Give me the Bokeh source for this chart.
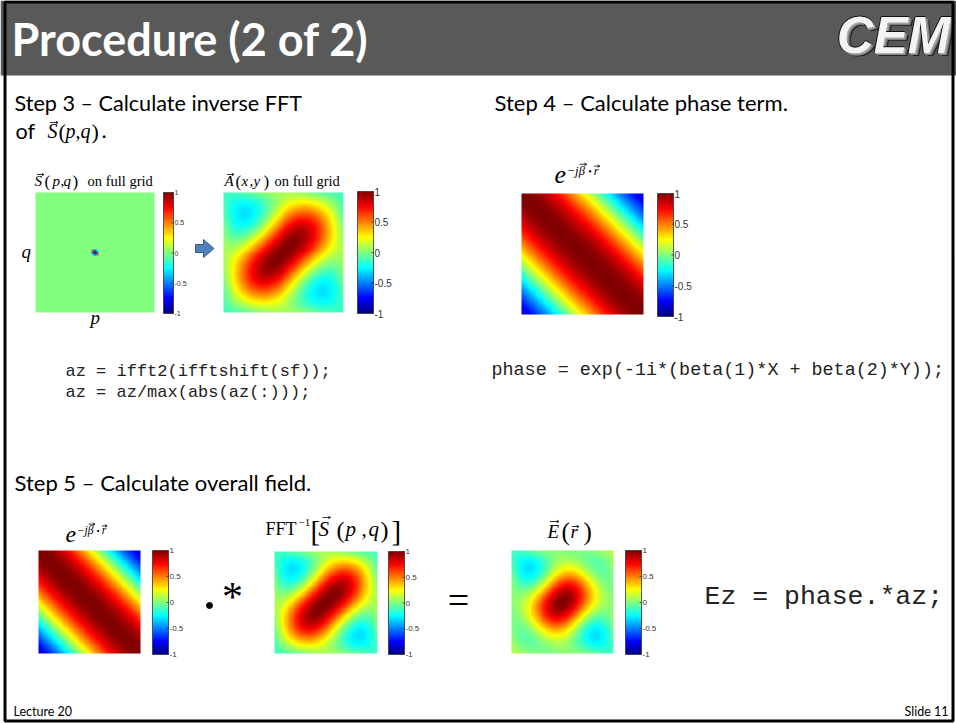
import numpy as np
from bokeh.plotting import figure
from bokeh.models import Range1d, LinearColorMapper
from bokeh.core.properties import value
from bokeh.embed import file_html
from bokeh.resources import INLINE

# ---------------- data ----------------
# truncated Fourier series of the unit cell: harmonic indices and amplitudes
harm_m = [0, 1, 0, 1, 1]
harm_n = [0, 0, 1, 1, -1]
harm_amp = [0.26, 0.28, 0.28, 0.308, -0.13]
# Bloch wave vector (per unit cell) used for the phase term
beta = [2.6, -2.6]
cbar_ticks = [1, 0.5, 0, -0.5, -1]
cbar_labels = ["1", "0.5", "0", "-0.5", "-1"]
field_pts = 121
spec_pts = 57
title_text = "Procedure (2 of 2)"
step3_text = "Step 3 \u2013 Calculate inverse FFT"
step4_text = "Step 4 \u2013 Calculate phase term."
step5_text = "Step 5 \u2013 Calculate overall field."
code_step3 = ["az = ifft2(ifftshift(sf));", "az = az/max(abs(az(:)));"]
code_step4 = "phase = exp(-1i*(beta(1)*X + beta(2)*Y));"
code_step5 = "Ez = phase.*az;"
footer_left = "Lecture 20"
footer_right = "Slide 11"

# ---------------- fields ----------------
u = (np.arange(field_pts) + 0.5) / field_pts - 0.5
UX, VY = np.meshgrid(u, u)  # VY grows downward on the slide
az = np.zeros_like(UX)
for m, n, a in zip(harm_m, harm_n, harm_amp):
    az += a * np.cos(2 * np.pi * (m * UX + n * VY))
az /= np.abs(az).max()
phase = np.cos(beta[0] * UX + beta[1] * VY)
ez = phase * az
ez /= np.abs(ez).max()

sf = np.zeros((spec_pts, spec_pts))
c = spec_pts // 2
for m, n, a in zip(harm_m, harm_n, harm_amp):
    if m == 0 and n == 0:
        sf[c, c] += a
    else:
        sgn = (-1) ** (m + n)
        sf[c + n, c + m] += sgn * a / 2
        sf[c - n, c - m] += sgn * a / 2
sf /= np.abs(sf).max()

tt = np.linspace(0, 1, 256)
def ch(o):
    return np.clip(1.5 - np.abs(4 * tt - o), 0, 1)
jet = ["#%02x%02x%02x" % (int(round(r * 255)), int(round(g * 255)), int(round(b * 255)))
       for r, g, b in zip(ch(3), ch(2), ch(1))]
mapper = LinearColorMapper(palette=jet, low=-1, high=1)

# ---------------- figure ----------------
W, H = 956, 723
p = figure(width=W, height=H, x_range=Range1d(0, W), y_range=Range1d(0, H),
           output_backend="svg", toolbar_location=None, x_axis_type=None, y_axis_type=None,
           min_border=0)
p.grid.visible = False
p.outline_line_color = None
p.background_fill_color = "white"
p.border_fill_color = "white"

BL = 0.37  # baseline correction (fraction of font size)


def txt(x, y, s, size, font="Lato", style="normal", color="black", align="left", baseline="alphabetic"):
    yy = y - BL * size if baseline == "alphabetic" else y
    p.text(x=[x], y=[H - yy], text=[s], text_font=value(font), text_font_size=f"{size:.1f}px",
           text_font_style=style, text_color=color, text_align=align, text_baseline=baseline)


def vec(xc, y, w):
    x0, x1 = xc - w / 2, xc + w / 2
    p.segment(x0=[x0, x1, x1], y0=[H - y, H - y, H - y], x1=[x1, x1 - 2.2, x1 - 2.2],
              y1=[H - y, H - y + 1.3, H - y - 1.3], line_color="black", line_width=0.8)


def panel(arr, x0, y0, x1, y1):
    p.image(image=[arr[::-1]], x=x0, y=H - y1, dw=x1 - x0, dh=y1 - y0, color_mapper=mapper)


cb_vals = np.linspace(-1, 1, 256).reshape(256, 1)


def cbar(x0, y0, x1, y1, fs):
    p.image(image=[cb_vals], x=x0, y=H - y1, dw=x1 - x0, dh=y1 - y0, color_mapper=mapper)
    p.quad(left=[x0], right=[x1], bottom=[H - y1], top=[H - y0], fill_color=None,
           line_color="#333333", line_width=0.8)
    ty = [H - (y0 + (1 - v) / 2 * (y1 - y0)) for v in cbar_ticks]
    p.segment(x0=[x1 - 2] * len(ty), y0=ty, x1=[x1] * len(ty), y1=ty, line_color="#333333", line_width=0.8)
    p.text(x=[x1 + 1] * len(ty), y=ty, text=cbar_labels, text_font=value("Liberation Sans"),
           text_font_size=f"{fs:.1f}px", text_baseline="middle", text_color="#333333")


# header
p.quad(left=[0], right=[W], bottom=[H - 75], top=[H], fill_color="#595959", line_color=None)
txt(11, 55, title_text, 45, style="bold", color="white")
# CEM logo
for dx, dy, col in [(4, 3, "#222222"), (3, 2, "#666666"), (2, 1.5, "#8a8a8a"), (1, 1, "#aaaaaa"),
                    (-1, 0, "#111111"), (0, -1, "#111111")]:
    txt(893 + dx, 54 + dy, "CEM", 51, font="Liberation Sans", style="bold italic", color=col, align="center")
txt(893, 54, "CEM", 51, font="Liberation Sans", style="bold italic", color="#f4f4f4", align="center")

# slide border
p.quad(left=[4.5], right=[952.5], bottom=[H - 720.5], top=[H - 1.5], fill_color=None,
       line_color="black", line_width=3)

SER = "Liberation Serif"
# step texts
txt(14, 110, step3_text, 21.6)
txt(15, 138, "of", 21.6)
txt(47, 138, "S", 20, font=SER, style="italic")
vec(53.5, 122, 8)
txt(58, 139, "(", 22, font=SER)
txt(65, 138, "p", 20, font=SER, style="italic")
txt(75, 138, ",", 20, font=SER)
txt(80, 138, "q", 20, font=SER, style="italic")
txt(91, 139, ")", 22, font=SER)
txt(101, 138, ".", 22)
txt(494, 110, step4_text, 22)
txt(14, 490, step5_text, 22)

# panel 1: S(p,q) on full grid
txt(34, 186, "S", 15, font=SER, style="italic")
vec(40, 174, 7)
txt(44, 187, "(", 17, font=SER)
txt(52, 186, "p", 15, font=SER, style="italic")
txt(60, 186, ",", 15, font=SER)
txt(63, 186, "q", 15, font=SER, style="italic")
txt(72, 187, ")", 17, font=SER)
txt(87, 186, "on full grid", 14.5, font=SER)
panel(sf, 35, 192, 154, 312)
cbar(163, 192, 173, 313, 7)
txt(21, 258, "q", 19, font=SER, style="italic")
txt(90, 324, "p", 19, font=SER, style="italic")

# arrow between panels
ax = [195, 203, 203, 213.5, 203, 203, 195]
ay = [244, 244, 239, 248, 257, 252, 252]
p.patch(x=ax, y=[H - v for v in ay], fill_color="#4f81bd", line_color="#385d8a", line_width=1)

# panel 2: A(x,y) on full grid
txt(224, 186, "A", 15, font=SER, style="italic")
vec(230, 174, 7)
txt(235, 187, "(", 17, font=SER)
txt(241, 186, "x", 15, font=SER, style="italic")
txt(249, 186, ",", 15, font=SER)
txt(253, 186, "y", 15, font=SER, style="italic")
txt(263, 187, ")", 17, font=SER)
txt(274, 186, "on full grid", 14.5, font=SER)
panel(az, 223, 192, 343, 312)
cbar(357, 191, 373, 313, 10)


def exp_title(x, y, big, small, sup_dy):
    txt(x, y, "e", big, font=SER, style="italic")
    sx = x + big * 0.5
    sy = y - sup_dy
    txt(sx, sy, "\u2212", small, font=SER)
    txt(sx + small * 0.6, sy, "j", small, font=SER, style="italic")
    txt(sx + small * 0.9, sy, "\u03b2", small, font=SER, style="italic")
    vec(sx + small * 1.25, sy - small * 0.9, small * 0.55)
    txt(sx + small * 1.65, sy - small * 0.05, "\u2022", small * 0.8, font=SER)
    txt(sx + small * 2.1, sy, "r", small, font=SER, style="italic")
    vec(sx + small * 2.35, sy - small * 0.75, small * 0.45)


# panel 3: phase
exp_title(554, 184, 26, 12.5, 9)
panel(phase, 521, 193, 643, 314)
cbar(657, 193, 673, 316, 10)

# code lines
MONO = "Liberation Mono"
txt(65, 377, code_step3[0], 17, font=MONO, color="#222222")
txt(65, 398, code_step3[1], 17, font=MONO, color="#222222")
txt(491, 377, code_step4, 18.4, font=MONO, color="#222222")

# step 5 row
exp_title(65, 543, 24, 11.5, 9)
panel(phase, 38, 550, 140, 653)
cbar(152, 550, 168, 654, 8)

p.scatter(x=[209], y=[H - 605], size=6, color="black")
txt(232, 612, "*", 42, font=SER, align="center")

txt(265, 535, "FFT", 18, font=SER)
txt(298, 526, "\u22121", 11, font=SER)
txt(310, 541, "[", 29, font=SER)
txt(318, 536, "S", 21, font=SER, style="italic")
vec(326, 517, 8)
txt(336, 538, "(", 24, font=SER)
txt(345, 536, "p", 21, font=SER, style="italic")
txt(361, 536, ",", 21, font=SER)
txt(368, 536, "q", 21, font=SER, style="italic")
txt(380, 538, ")", 24, font=SER)
txt(391, 541, "]", 29, font=SER)
panel(az, 274, 551, 377, 653)
cbar(388, 551, 404, 654, 8)

txt(458, 599, "=", 38, font=SER, align="center", baseline="middle")

txt(547, 538, "E", 19, font=SER, style="italic")
vec(554, 521, 9)
txt(561, 540, "(", 25, font=SER)
txt(570, 538, "r", 19, font=SER, style="italic")
vec(575, 526, 7)
txt(583, 540, ")", 25, font=SER)
panel(ez, 511, 550, 613, 653)
cbar(625, 550, 641, 654, 8)

txt(704, 606, code_step5, 26.5, font=MONO, color="#222222")

# footer
txt(13, 716, footer_left, 12.5)
txt(948, 716, footer_right, 12.5, align="right")

open("out.html", "w").write(file_html(p, INLINE))
